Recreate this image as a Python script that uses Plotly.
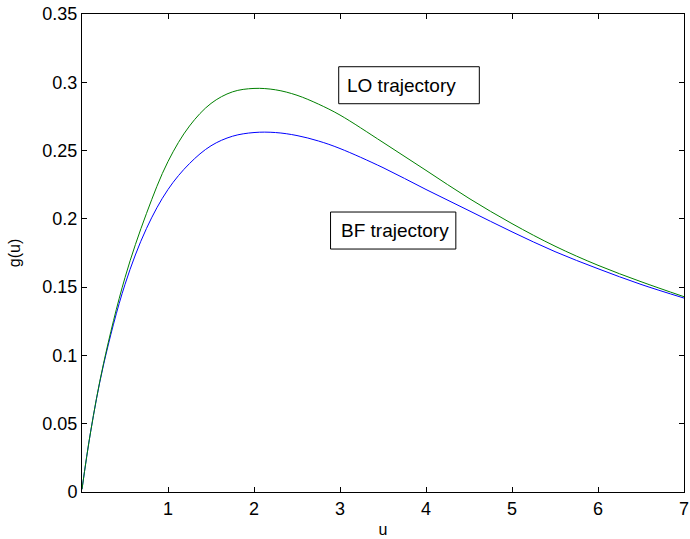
import plotly.graph_objects as go

u = [0, 0.1, 0.25, 0.5, 0.75, 1.0, 1.25, 1.5, 1.75, 2.0, 2.25, 2.5, 2.75, 3.0,
     3.5, 4.0, 4.5, 5.0, 5.5, 6.0, 6.5, 7.0]
g_lo = [0.002, 0.044, 0.094, 0.157, 0.204, 0.242, 0.268, 0.2845, 0.293, 0.2955,
        0.2945, 0.2905, 0.2840, 0.2760, 0.2560, 0.2355, 0.2150, 0.1965, 0.1800,
        0.1660, 0.1540, 0.1430]
g_bf = [0.002, 0.044, 0.093, 0.152, 0.193, 0.2215, 0.2405, 0.2535, 0.2605, 0.2632,
        0.2632, 0.2610, 0.2570, 0.2515, 0.2375, 0.2215, 0.2060, 0.1905, 0.1760,
        0.1635, 0.1520, 0.1420]

x_ticks = [1, 2, 3, 4, 5, 6, 7]
y_ticks = [0, 0.05, 0.1, 0.15, 0.2, 0.25, 0.3, 0.35]
y_ticktext = ["0", "0.05", "0.1", "0.15", "0.2", "0.25", "0.3", "0.35"]

FONT = "Liberation Sans, Arial, sans-serif"

fig = go.Figure()
fig.add_trace(go.Scatter(x=u, y=g_bf, mode="lines", line=dict(color="#0000ff", width=1, shape="spline"),
                         name="BF trajectory"))
fig.add_trace(go.Scatter(x=u, y=g_lo, mode="lines", line=dict(color="#008000", width=1, shape="spline"),
                         name="LO trajectory"))

axis_common = dict(showline=True, linecolor="black", linewidth=1, mirror="ticks",
                   ticks="inside", ticklen=5, tickcolor="black", showgrid=False,
                   zeroline=False, ticklabeloverflow="allow",
                   tickfont=dict(family=FONT, size=18, color="black"))

fig.update_xaxes(range=[0, 7], tickvals=x_ticks, ticktext=[str(v) for v in x_ticks],
                 title=dict(text="u", font=dict(family=FONT, size=16, color="black"), standoff=6),
                 **axis_common)
fig.update_yaxes(range=[0, 0.35], tickvals=y_ticks, ticktext=y_ticktext,
                 title=dict(text="g(u)", font=dict(family=FONT, size=16, color="black"), standoff=17),
                 **axis_common)

# text boxes
fig.add_shape(type="rect", xref="x", yref="y", x0=2.985, x1=4.620, y0=0.2843, y1=0.3114,
              line=dict(color="black", width=1), fillcolor="white", layer="above")
fig.add_shape(type="rect", xref="x", yref="y", x0=2.890, x1=4.347, y0=0.1779, y1=0.2050,
              line=dict(color="black", width=1), fillcolor="white", layer="above")

fig.add_annotation(x=3.066, y=0.2979, xref="x", yref="y", text="LO trajectory",
                   showarrow=False, borderpad=0, xanchor="left", yanchor="middle",
                   font=dict(family=FONT, size=19, color="black"))
fig.add_annotation(x=3.005, y=0.1915, xref="x", yref="y", text="BF trajectory",
                   showarrow=False, borderpad=0, xanchor="left", yanchor="middle",
                   font=dict(family=FONT, size=19, color="black"))

fig.update_layout(width=690, height=539, showlegend=False,
                  margin=dict(l=82, r=1, t=14, b=47),
                  plot_bgcolor="white", paper_bgcolor="white",
                  font=dict(family=FONT, color="black"))

fig.write_html("out.html")
